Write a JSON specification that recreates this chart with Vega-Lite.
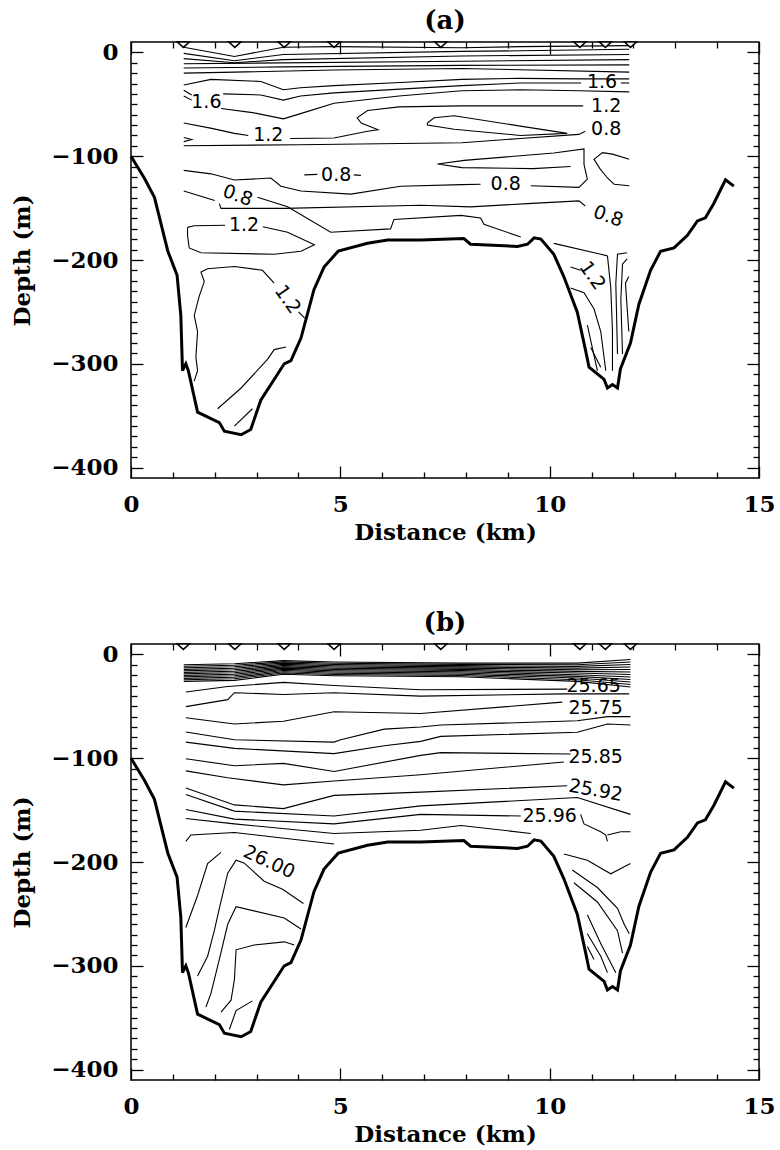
{
  "$schema": "https://vega.github.io/schema/vega-lite/v6.json",
  "background": "white",
  "padding": {"left": 10, "top": 7, "right": 5, "bottom": 5},
  "spacing": 166,
  "bounds": "flush",
  "config": {
    "view": {"stroke": "black", "strokeWidth": 1.5},
    "font": "DejaVu Serif",
    "axis": {"grid": false, "domain": false, "tickColor": "black", "tickWidth": 1.3, "labelColor": "black", "titleColor": "black", "labelFont": "DejaVu Serif", "labelFontWeight": "bold", "labelFontSize": 23, "titleFont": "DejaVu Serif", "titleFontWeight": "bold", "titleFontSize": 23, "labelFlush": false, "labelOverlap": false, "labelBound": false},
    "title": {"font": "DejaVu Serif", "fontWeight": "bold", "fontSize": 26, "color": "black", "offset": 5}
  },
  "datasets": {
    "bathy": [
      {"i":0,"x":0,"d":-100},{"i":1,"x":0.32,"d":-121.3},{"i":2,"x":0.56,"d":-139.6},{"i":3,"x":0.88,"d":-191.5},{"i":4,"x":1.10,"d":-214.6},{"i":5,"x":1.19,"d":-253.4},{"i":6,"x":1.23,"d":-306.6},{"i":7,"x":1.31,"d":-300},{"i":8,"x":1.37,"d":-306.6},{"i":9,"x":1.59,"d":-346.6},{"i":10,"x":2.11,"d":-356.6},{"i":11,"x":2.23,"d":-365},{"i":12,"x":2.63,"d":-368.3},{"i":13,"x":2.86,"d":-363.3},{"i":14,"x":3.10,"d":-335},{"i":15,"x":3.66,"d":-300},{"i":16,"x":3.82,"d":-296.9},{"i":17,"x":4.06,"d":-275.2},{"i":18,"x":4.37,"d":-228.6},{"i":19,"x":4.61,"d":-206.8},{"i":20,"x":4.95,"d":-191.5},{"i":21,"x":5.65,"d":-183.9},{"i":22,"x":6.13,"d":-180.8},{"i":23,"x":6.92,"d":-180.8},{"i":24,"x":7.95,"d":-179.3},{"i":25,"x":8.11,"d":-184.8},{"i":26,"x":9.23,"d":-186.9},{"i":27,"x":9.47,"d":-184.8},{"i":28,"x":9.63,"d":-178.7},{"i":29,"x":9.79,"d":-179.9},{"i":30,"x":10.10,"d":-194.5},{"i":31,"x":10.34,"d":-216.2},{"i":32,"x":10.66,"d":-250.2},{"i":33,"x":10.86,"d":-287.5},{"i":34,"x":10.94,"d":-303.3},{"i":35,"x":11.30,"d":-315},{"i":36,"x":11.38,"d":-323.3},{"i":37,"x":11.50,"d":-320},{"i":38,"x":11.62,"d":-323.3},{"i":39,"x":11.69,"d":-305},{"i":40,"x":11.93,"d":-280},{"i":41,"x":12.13,"d":-242.8},{"i":42,"x":12.41,"d":-209.9},{"i":43,"x":12.65,"d":-191.5},{"i":44,"x":12.97,"d":-188.4},{"i":45,"x":13.29,"d":-176.2},{"i":46,"x":13.53,"d":-162.4},{"i":47,"x":13.72,"d":-159.4},{"i":48,"x":13.92,"d":-145.6},{"i":49,"x":14.20,"d":-122.7},{"i":50,"x":14.40,"d":-128.8}
    ],
    "stations": [{"x":1.25},{"x":2.48},{"x":3.66},{"x":4.85},{"x":7.4},{"x":10.72},{"x":11.33},{"x":11.93}],
    "contA": [
      {"c":"A1","i":0,"x":1.26,"d":5},{"c":"A1","i":1,"x":2.47,"d":-4},{"c":"A1","i":2,"x":3.64,"d":5},{"c":"A1","i":3,"x":4.85,"d":5.5},{"c":"A1","i":4,"x":7.9,"d":4.5},{"c":"A1","i":5,"x":9.3,"d":5.5},{"c":"A1","i":6,"x":11.9,"d":6.5},
      {"c":"A2","i":0,"x":1.26,"d":-1},{"c":"A2","i":1,"x":2.47,"d":-8},{"c":"A2","i":2,"x":3.64,"d":-2},{"c":"A2","i":3,"x":7.9,"d":1},{"c":"A2","i":4,"x":9.3,"d":1.5},{"c":"A2","i":5,"x":11.9,"d":3},
      {"c":"A3","i":0,"x":1.26,"d":-6},{"c":"A3","i":1,"x":2.47,"d":-10},{"c":"A3","i":2,"x":3.64,"d":-7},{"c":"A3","i":3,"x":7.9,"d":-3.5},{"c":"A3","i":4,"x":11.9,"d":-2},
      {"c":"A4","i":0,"x":1.26,"d":-11},{"c":"A4","i":1,"x":7.9,"d":-8.5},{"c":"A4","i":2,"x":11.9,"d":-7},
      {"c":"A5","i":0,"x":1.26,"d":-15},{"c":"A5","i":1,"x":3.64,"d":-14},{"c":"A5","i":2,"x":7.9,"d":-12.5},{"c":"A5","i":3,"x":11.9,"d":-12},
      {"c":"A6","i":0,"x":1.26,"d":-20},{"c":"A6","i":1,"x":2.47,"d":-19},{"c":"A6","i":2,"x":4.85,"d":-17},{"c":"A6","i":3,"x":7.9,"d":-15.5},{"c":"A6","i":4,"x":11.9,"d":-19},
      {"c":"A7","i":0,"x":1.26,"d":-31.5},{"c":"A7","i":1,"x":1.91,"d":-26},{"c":"A7","i":2,"x":3.1,"d":-28},{"c":"A7","i":3,"x":3.64,"d":-36},{"c":"A7","i":4,"x":4.05,"d":-34},{"c":"A7","i":5,"x":4.85,"d":-32},{"c":"A7","i":6,"x":6.44,"d":-29},{"c":"A7","i":7,"x":7.9,"d":-26},{"c":"A7","i":8,"x":9.3,"d":-25},{"c":"A7","i":9,"x":10.7,"d":-25.5},{"c":"A7","i":10,"x":11.9,"d":-25.5},
      {"c":"A8","i":0,"x":2.2,"d":-40},{"c":"A8","i":1,"x":3.1,"d":-41},{"c":"A8","i":2,"x":3.64,"d":-46},{"c":"A8","i":3,"x":4.05,"d":-42},{"c":"A8","i":4,"x":4.85,"d":-39},{"c":"A8","i":5,"x":7.9,"d":-32},{"c":"A8","i":6,"x":9.3,"d":-29.5},{"c":"A8","i":7,"x":10.75,"d":-29.5},
      {"c":"A8b","i":0,"x":11.7,"d":-29.5},{"c":"A8b","i":1,"x":11.9,"d":-29.5},
      {"c":"A9","i":0,"x":1.26,"d":-36.5},{"c":"A9","i":1,"x":1.45,"d":-41},
      {"c":"A10","i":0,"x":1.26,"d":-42},{"c":"A10","i":1,"x":1.45,"d":-46},
      {"c":"A11","i":0,"x":2.15,"d":-54},{"c":"A11","i":1,"x":2.9,"d":-58},{"c":"A11","i":2,"x":3.64,"d":-64},{"c":"A11","i":3,"x":4.05,"d":-59},{"c":"A11","i":4,"x":4.85,"d":-49},{"c":"A11","i":5,"x":6.4,"d":-42},{"c":"A11","i":6,"x":7.9,"d":-37},{"c":"A11","i":7,"x":9.3,"d":-36},{"c":"A11","i":8,"x":10.7,"d":-37},{"c":"A11","i":9,"x":11.9,"d":-38},
      {"c":"A12","i":0,"x":1.26,"d":-68},{"c":"A12","i":1,"x":1.9,"d":-73},{"c":"A12","i":2,"x":2.47,"d":-78},{"c":"A12","i":3,"x":2.8,"d":-80},
      {"c":"A12b","i":0,"x":3.8,"d":-83},{"c":"A12b","i":1,"x":4.85,"d":-82.5},{"c":"A12b","i":2,"x":5.65,"d":-76},{"c":"A12b","i":3,"x":5.9,"d":-74.5},{"c":"A12b","i":4,"x":5.5,"d":-68},{"c":"A12b","i":5,"x":5.4,"d":-63},{"c":"A12b","i":6,"x":5.65,"d":-56},{"c":"A12b","i":7,"x":6.4,"d":-52.5},{"c":"A12b","i":8,"x":7.9,"d":-51.5},{"c":"A12b","i":9,"x":9.3,"d":-51.5},{"c":"A12b","i":10,"x":10.8,"d":-51.5},
      {"c":"A13","i":0,"x":1.26,"d":-82},{"c":"A13","i":1,"x":1.45,"d":-84},{"c":"A13","i":2,"x":1.26,"d":-86},
      {"c":"A14","i":0,"x":1.26,"d":-90},{"c":"A14","i":1,"x":4,"d":-89},{"c":"A14","i":2,"x":7.9,"d":-87},{"c":"A14","i":3,"x":9.3,"d":-83},{"c":"A14","i":4,"x":10.7,"d":-79},{"c":"A14","i":5,"x":10.85,"d":-76},
      {"c":"A15","i":0,"x":7.08,"d":-68},{"c":"A15","i":1,"x":7.24,"d":-63},{"c":"A15","i":2,"x":7.72,"d":-61},{"c":"A15","i":3,"x":9.3,"d":-71},{"c":"A15","i":4,"x":10.42,"d":-78},{"c":"A15","i":5,"x":9.3,"d":-80},{"c":"A15","i":6,"x":7.72,"d":-74},{"c":"A15","i":7,"x":7.08,"d":-70},{"c":"A15","i":8,"x":7.08,"d":-68},
      {"c":"A16","i":0,"x":4.14,"d":-118},{"c":"A16","i":1,"x":4.45,"d":-117.5},
      {"c":"A16b","i":0,"x":5.32,"d":-118},{"c":"A16b","i":1,"x":5.49,"d":-118.5},
      {"c":"A17","i":0,"x":1.26,"d":-113.7},{"c":"A17","i":1,"x":1.91,"d":-117},{"c":"A17","i":2,"x":2.47,"d":-123},{"c":"A17","i":3,"x":3.34,"d":-121},{"c":"A17","i":4,"x":3.58,"d":-129},{"c":"A17","i":5,"x":4.06,"d":-133.5},{"c":"A17","i":6,"x":5.25,"d":-136.5},{"c":"A17","i":7,"x":6.44,"d":-129},{"c":"A17","i":8,"x":7.9,"d":-127.4},{"c":"A17","i":9,"x":8.35,"d":-127},
      {"c":"A17b","i":0,"x":9.55,"d":-128.5},{"c":"A17b","i":1,"x":10.7,"d":-130},{"c":"A17b","i":2,"x":10.9,"d":-122},{"c":"A17b","i":3,"x":10.82,"d":-108},{"c":"A17b","i":4,"x":10.82,"d":-93},{"c":"A17b","i":5,"x":10.1,"d":-97},{"c":"A17b","i":6,"x":7.96,"d":-104},{"c":"A17b","i":7,"x":7.32,"d":-107.6},{"c":"A17b","i":8,"x":7.9,"d":-111},{"c":"A17b","i":9,"x":9.6,"d":-112},{"c":"A17b","i":10,"x":10.5,"d":-110},
      {"c":"A19","i":0,"x":11.9,"d":-103},{"c":"A19","i":1,"x":11.5,"d":-98},{"c":"A19","i":2,"x":11.26,"d":-96.6},{"c":"A19","i":3,"x":11.06,"d":-103},{"c":"A19","i":4,"x":11.2,"d":-112},{"c":"A19","i":5,"x":11.38,"d":-121},{"c":"A19","i":6,"x":11.54,"d":-127},{"c":"A19","i":7,"x":11.9,"d":-128.5},
      {"c":"A20","i":0,"x":1.26,"d":-133.5},{"c":"A20","i":1,"x":2.0,"d":-142.7},
      {"c":"A20b","i":0,"x":3.02,"d":-139.6},{"c":"A20b","i":1,"x":3.74,"d":-148.8},{"c":"A20b","i":2,"x":4.77,"d":-173.2},{"c":"A20b","i":3,"x":6.2,"d":-170},{"c":"A20b","i":4,"x":6.28,"d":-161},{"c":"A20b","i":5,"x":7.88,"d":-157},{"c":"A20b","i":6,"x":8.35,"d":-159.5},{"c":"A20b","i":7,"x":8.43,"d":-165.6},{"c":"A20b","i":8,"x":9.31,"d":-177.8},
      {"c":"A21","i":0,"x":2.11,"d":-145.7},{"c":"A21","i":1,"x":2.15,"d":-150.3},{"c":"A21","i":2,"x":3.66,"d":-150.3},{"c":"A21","i":3,"x":6.92,"d":-147.2},{"c":"A21","i":4,"x":8.11,"d":-148.8},{"c":"A21","i":5,"x":9.47,"d":-145.7},{"c":"A21","i":6,"x":10.7,"d":-143},{"c":"A21","i":7,"x":10.85,"d":-148},
      {"c":"A22","i":0,"x":1.35,"d":-168.6},{"c":"A22","i":1,"x":1.51,"d":-167},{"c":"A22","i":2,"x":2.25,"d":-166.5},
      {"c":"A22b","i":0,"x":3.15,"d":-168},{"c":"A22b","i":1,"x":3.74,"d":-173.2},{"c":"A22b","i":2,"x":4.38,"d":-185.4},{"c":"A22b","i":3,"x":4.06,"d":-191.5},{"c":"A22b","i":4,"x":3.42,"d":-194.5},{"c":"A22b","i":5,"x":1.67,"d":-193},{"c":"A22b","i":6,"x":1.39,"d":-188.4},{"c":"A22b","i":7,"x":1.35,"d":-176.2},{"c":"A22b","i":8,"x":1.35,"d":-168.6},
      {"c":"A23","i":0,"x":3.42,"d":-222.3},{"c":"A23","i":1,"x":3.14,"d":-209.9},{"c":"A23","i":2,"x":2.47,"d":-206.2},{"c":"A23","i":3,"x":1.83,"d":-208.4},{"c":"A23","i":4,"x":1.67,"d":-211.5},{"c":"A23","i":5,"x":1.75,"d":-220.8},{"c":"A23","i":6,"x":1.63,"d":-234.8},{"c":"A23","i":7,"x":1.51,"d":-253.4},{"c":"A23","i":8,"x":1.59,"d":-268.9},{"c":"A23","i":9,"x":1.55,"d":-293.7},{"c":"A23","i":10,"x":1.59,"d":-306.7},{"c":"A23","i":11,"x":1.51,"d":-316.7},
      {"c":"A23b","i":0,"x":4.0,"d":-250},{"c":"A23b","i":1,"x":4.15,"d":-256},
      {"c":"A24","i":0,"x":3.70,"d":-283.8},{"c":"A24","i":1,"x":3.42,"d":-286.3},{"c":"A24","i":2,"x":3.26,"d":-295.7},{"c":"A24","i":3,"x":2.63,"d":-323.3},{"c":"A24","i":4,"x":2.07,"d":-343.3},
      {"c":"A25","i":0,"x":2.9,"d":-343.3},{"c":"A25","i":1,"x":2.47,"d":-360},
      {"c":"A26","i":0,"x":10.1,"d":-184},{"c":"A26","i":1,"x":11.22,"d":-194.5},{"c":"A26","i":2,"x":11.38,"d":-196},
      {"c":"A27","i":0,"x":10.5,"d":-206.8},{"c":"A27","i":1,"x":10.74,"d":-209.9},
      {"c":"A28","i":0,"x":10.5,"d":-227},{"c":"A28","i":1,"x":10.82,"d":-231.6},{"c":"A28","i":2,"x":11.06,"d":-247.2},{"c":"A28","i":3,"x":11.22,"d":-268.9},{"c":"A28","i":4,"x":11.34,"d":-306.7},
      {"c":"A29","i":0,"x":11.38,"d":-196},{"c":"A29","i":1,"x":11.46,"d":-227},{"c":"A29","i":2,"x":11.5,"d":-268.9},{"c":"A29","i":3,"x":11.5,"d":-306.7},
      {"c":"A30","i":0,"x":11.85,"d":-193},{"c":"A30","i":1,"x":11.62,"d":-194.5},{"c":"A30","i":2,"x":11.58,"d":-222.3},{"c":"A30","i":3,"x":11.62,"d":-290.6},
      {"c":"A31","i":0,"x":11.85,"d":-199},{"c":"A31","i":1,"x":11.74,"d":-204},{"c":"A31","i":2,"x":11.7,"d":-237.9},{"c":"A31","i":3,"x":11.74,"d":-290.6},
      {"c":"A32","i":0,"x":11.89,"d":-216},{"c":"A32","i":1,"x":11.81,"d":-222.3},{"c":"A32","i":2,"x":11.89,"d":-268.9},
      {"c":"A33","i":0,"x":10.9,"d":-262.7},{"c":"A33","i":1,"x":11.14,"d":-306.7},
      {"c":"A34","i":0,"x":10.98,"d":-284.4},{"c":"A34","i":1,"x":11.22,"d":-303.3}
    ],
    "contB": [
      {"c":"K0","i":0,"x":1.26,"d":-10},{"c":"K0","i":1,"x":2.47,"d":-9},{"c":"K0","i":2,"x":3.64,"d":-6},{"c":"K0","i":3,"x":4.85,"d":-7.4},{"c":"K0","i":4,"x":7.88,"d":-8.4},{"c":"K0","i":5,"x":10.66,"d":-8.4},{"c":"K0","i":6,"x":11.93,"d":-5},
      {"c":"K1","i":0,"x":1.26,"d":-11.5},{"c":"K1","i":1,"x":2.47,"d":-10.5},{"c":"K1","i":2,"x":3.64,"d":-7.2},{"c":"K1","i":3,"x":4.85,"d":-8.6},{"c":"K1","i":4,"x":7.88,"d":-9.6},{"c":"K1","i":5,"x":10.66,"d":-10},{"c":"K1","i":6,"x":11.93,"d":-7.4},
      {"c":"K2","i":0,"x":1.26,"d":-12.9},{"c":"K2","i":1,"x":2.47,"d":-11.9},{"c":"K2","i":2,"x":3.64,"d":-8.4},{"c":"K2","i":3,"x":4.85,"d":-9.8},{"c":"K2","i":4,"x":7.88,"d":-10.8},{"c":"K2","i":5,"x":10.66,"d":-11.6},{"c":"K2","i":6,"x":11.93,"d":-9.8},
      {"c":"K3","i":0,"x":1.26,"d":-14.4},{"c":"K3","i":1,"x":2.47,"d":-13.4},{"c":"K3","i":2,"x":3.64,"d":-9.6},{"c":"K3","i":3,"x":4.85,"d":-11},{"c":"K3","i":4,"x":7.88,"d":-12},{"c":"K3","i":5,"x":10.66,"d":-13.2},{"c":"K3","i":6,"x":11.93,"d":-12.2},
      {"c":"K4","i":0,"x":1.26,"d":-15.8},{"c":"K4","i":1,"x":2.47,"d":-14.8},{"c":"K4","i":2,"x":3.64,"d":-10.8},{"c":"K4","i":3,"x":4.85,"d":-12.2},{"c":"K4","i":4,"x":7.88,"d":-13.2},{"c":"K4","i":5,"x":10.66,"d":-14.8},{"c":"K4","i":6,"x":11.93,"d":-14.6},
      {"c":"K5","i":0,"x":1.26,"d":-17.3},{"c":"K5","i":1,"x":2.47,"d":-16.3},{"c":"K5","i":2,"x":3.64,"d":-12},{"c":"K5","i":3,"x":4.85,"d":-13.4},{"c":"K5","i":4,"x":7.88,"d":-14.4},{"c":"K5","i":5,"x":10.66,"d":-16.4},{"c":"K5","i":6,"x":11.93,"d":-17},
      {"c":"K6","i":0,"x":1.26,"d":-18.7},{"c":"K6","i":1,"x":2.47,"d":-17.7},{"c":"K6","i":2,"x":3.64,"d":-13.2},{"c":"K6","i":3,"x":4.85,"d":-14.6},{"c":"K6","i":4,"x":7.88,"d":-15.6},{"c":"K6","i":5,"x":10.66,"d":-18},{"c":"K6","i":6,"x":11.93,"d":-19.4},
      {"c":"K7","i":0,"x":1.26,"d":-20.2},{"c":"K7","i":1,"x":2.47,"d":-19.2},{"c":"K7","i":2,"x":3.64,"d":-14.4},{"c":"K7","i":3,"x":4.85,"d":-15.8},{"c":"K7","i":4,"x":7.88,"d":-16.8},{"c":"K7","i":5,"x":10.66,"d":-19.6},{"c":"K7","i":6,"x":11.93,"d":-21.8},
      {"c":"K8","i":0,"x":1.26,"d":-21.6},{"c":"K8","i":1,"x":2.47,"d":-20.6},{"c":"K8","i":2,"x":3.64,"d":-15.6},{"c":"K8","i":3,"x":4.85,"d":-17},{"c":"K8","i":4,"x":7.88,"d":-18},{"c":"K8","i":5,"x":10.66,"d":-21.2},{"c":"K8","i":6,"x":11.93,"d":-24.2},
      {"c":"K9","i":0,"x":1.26,"d":-23.1},{"c":"K9","i":1,"x":2.47,"d":-22.1},{"c":"K9","i":2,"x":3.64,"d":-16.8},{"c":"K9","i":3,"x":4.85,"d":-18.2},{"c":"K9","i":4,"x":7.88,"d":-19.2},{"c":"K9","i":5,"x":10.66,"d":-22.8},{"c":"K9","i":6,"x":11.93,"d":-26.6},
      {"c":"K10","i":0,"x":1.26,"d":-24.5},{"c":"K10","i":1,"x":2.47,"d":-23.5},{"c":"K10","i":2,"x":3.64,"d":-18},{"c":"K10","i":3,"x":4.85,"d":-19.4},{"c":"K10","i":4,"x":7.88,"d":-20.4},{"c":"K10","i":5,"x":10.66,"d":-24.4},{"c":"K10","i":6,"x":11.93,"d":-29},
      {"c":"K11","i":0,"x":1.26,"d":-26},{"c":"K11","i":1,"x":2.47,"d":-25},{"c":"K11","i":2,"x":3.64,"d":-19.2},{"c":"K11","i":3,"x":4.85,"d":-20.6},{"c":"K11","i":4,"x":7.88,"d":-21.6},{"c":"K11","i":5,"x":10.66,"d":-26},{"c":"K11","i":6,"x":11.93,"d":-31.4},
      {"c":"P1","i":0,"x":1.31,"d":-36.2},{"c":"P1","i":1,"x":2.31,"d":-31},{"c":"P1","i":2,"x":3.64,"d":-27},{"c":"P1","i":3,"x":4.85,"d":-30},{"c":"P1","i":4,"x":6.92,"d":-34},{"c":"P1","i":5,"x":10.42,"d":-33.5},
      {"c":"P2","i":0,"x":1.31,"d":-50.3},{"c":"P2","i":1,"x":2.31,"d":-43.6},{"c":"P2","i":2,"x":2.47,"d":-36.9},{"c":"P2","i":3,"x":3.64,"d":-38.6},{"c":"P2","i":4,"x":4.85,"d":-37},{"c":"P2","i":5,"x":6.92,"d":-40.2},{"c":"P2","i":6,"x":10.34,"d":-38},{"c":"P2","i":7,"x":11.9,"d":-38},
      {"c":"P3","i":0,"x":1.31,"d":-61},{"c":"P3","i":1,"x":2.47,"d":-67},{"c":"P3","i":2,"x":3.64,"d":-64.4},{"c":"P3","i":3,"x":4.85,"d":-55.3},{"c":"P3","i":4,"x":6.92,"d":-57},{"c":"P3","i":5,"x":10.3,"d":-46},
      {"c":"P4","i":0,"x":1.31,"d":-74.8},{"c":"P4","i":1,"x":2.47,"d":-82.2},{"c":"P4","i":2,"x":4.85,"d":-84.5},{"c":"P4","i":3,"x":5.01,"d":-82.2},{"c":"P4","i":4,"x":6.05,"d":-72},{"c":"P4","i":5,"x":6.92,"d":-70},{"c":"P4","i":6,"x":7.4,"d":-68},{"c":"P4","i":7,"x":10.66,"d":-64},{"c":"P4","i":8,"x":11.38,"d":-60},{"c":"P4","i":9,"x":11.93,"d":-60},
      {"c":"P5","i":0,"x":1.31,"d":-84.5},{"c":"P5","i":1,"x":2.47,"d":-90.5},{"c":"P5","i":2,"x":4.85,"d":-95.6},{"c":"P5","i":3,"x":6.05,"d":-88},{"c":"P5","i":4,"x":6.92,"d":-83.8},{"c":"P5","i":5,"x":7.4,"d":-79},{"c":"P5","i":6,"x":10.66,"d":-75},{"c":"P5","i":7,"x":11.38,"d":-67},{"c":"P5","i":8,"x":11.93,"d":-68},
      {"c":"P6","i":0,"x":1.31,"d":-100.6},{"c":"P6","i":1,"x":2.47,"d":-107.3},{"c":"P6","i":2,"x":3.64,"d":-105},{"c":"P6","i":3,"x":4.85,"d":-112.8},{"c":"P6","i":4,"x":6.92,"d":-97.3},{"c":"P6","i":5,"x":7.4,"d":-94.6},{"c":"P6","i":6,"x":10.5,"d":-96},
      {"c":"P7","i":0,"x":1.31,"d":-112.2},{"c":"P7","i":1,"x":2.31,"d":-118.9},{"c":"P7","i":2,"x":3.64,"d":-125.7},{"c":"P7","i":3,"x":4.85,"d":-122},{"c":"P7","i":4,"x":6.92,"d":-115.9},{"c":"P7","i":5,"x":10.34,"d":-103.7},
      {"c":"P8","i":0,"x":1.31,"d":-128.7},{"c":"P8","i":1,"x":2.47,"d":-145},{"c":"P8","i":2,"x":3.64,"d":-148.6},{"c":"P8","i":3,"x":4.85,"d":-135.8},{"c":"P8","i":4,"x":6.92,"d":-132.7},{"c":"P8","i":5,"x":10.42,"d":-126.6},
      {"c":"P9","i":0,"x":1.31,"d":-134.9},{"c":"P9","i":1,"x":2.47,"d":-151},{"c":"P9","i":2,"x":4.85,"d":-155.7},{"c":"P9","i":3,"x":6.92,"d":-145.9},{"c":"P9","i":4,"x":10.66,"d":-137.9},{"c":"P9","i":5,"x":11.93,"d":-154.1},
      {"c":"P10","i":0,"x":1.31,"d":-149.5},{"c":"P10","i":1,"x":2.47,"d":-158.7},{"c":"P10","i":2,"x":4.85,"d":-163.3},{"c":"P10","i":3,"x":6.92,"d":-154.1},{"c":"P10","i":4,"x":9.31,"d":-155.7},
      {"c":"P10b","i":0,"x":10.74,"d":-154.1},{"c":"P10b","i":1,"x":10.82,"d":-163.3},{"c":"P10b","i":2,"x":11.22,"d":-170.9},{"c":"P10b","i":3,"x":11.34,"d":-174},{"c":"P10b","i":4,"x":11.38,"d":-180.1},
      {"c":"P10c","i":0,"x":11.38,"d":-174},{"c":"P10c","i":1,"x":11.7,"d":-170.9},{"c":"P10c","i":2,"x":11.93,"d":-170.9},
      {"c":"P11","i":0,"x":1.31,"d":-158.1},{"c":"P11","i":1,"x":2.47,"d":-163.3},{"c":"P11","i":2,"x":4.85,"d":-172.5},{"c":"P11","i":3,"x":6.92,"d":-169.4},{"c":"P11","i":4,"x":7.88,"d":-164.8},{"c":"P11","i":5,"x":9.55,"d":-172.5},
      {"c":"P12","i":0,"x":1.31,"d":-180.1},{"c":"P12","i":1,"x":1.43,"d":-174},{"c":"P12","i":2,"x":2.47,"d":-171.6},{"c":"P12","i":3,"x":4.85,"d":-182.6},
      {"c":"Q1","i":0,"x":2.15,"d":-190.8},{"c":"Q1","i":1,"x":1.83,"d":-201.5},{"c":"Q1","i":2,"x":1.59,"d":-232.3},{"c":"Q1","i":3,"x":1.31,"d":-263.1},
      {"c":"Q2","i":0,"x":4.12,"d":-240},{"c":"Q2","i":1,"x":3.62,"d":-226.2},{"c":"Q2","i":2,"x":3.18,"d":-218.5},{"c":"Q2","i":3,"x":2.70,"d":-200.9},{"c":"Q2","i":4,"x":2.51,"d":-198.2},{"c":"Q2","i":5,"x":2.31,"d":-210.8},{"c":"Q2","i":6,"x":2.11,"d":-244.6},{"c":"Q2","i":7,"x":1.99,"d":-266.2},{"c":"Q2","i":8,"x":1.83,"d":-290.8},{"c":"Q2","i":9,"x":1.59,"d":-309.9},
      {"c":"Q3","i":0,"x":4.06,"d":-264.6},{"c":"Q3","i":1,"x":3.66,"d":-253.9},{"c":"Q3","i":2,"x":2.51,"d":-243.1},{"c":"Q3","i":3,"x":2.31,"d":-260},{"c":"Q3","i":4,"x":2.11,"d":-293.9},{"c":"Q3","i":5,"x":1.91,"d":-326.5},{"c":"Q3","i":6,"x":1.79,"d":-339.7},
      {"c":"Q4","i":0,"x":3.9,"d":-280},{"c":"Q4","i":1,"x":3.66,"d":-276.9},{"c":"Q4","i":2,"x":2.94,"d":-280},{"c":"Q4","i":3,"x":2.51,"d":-284.6},{"c":"Q4","i":4,"x":2.47,"d":-313.2},{"c":"Q4","i":5,"x":2.39,"d":-333.1},{"c":"Q4","i":6,"x":2.15,"d":-344.7},
      {"c":"Q5","i":0,"x":2.9,"d":-333.8},{"c":"Q5","i":1,"x":2.51,"d":-343.1},{"c":"Q5","i":2,"x":2.35,"d":-361.3},
      {"c":"R1","i":0,"x":10.34,"d":-192.3},{"c":"R1","i":1,"x":10.9,"d":-198.4},{"c":"R1","i":2,"x":11.3,"d":-207.7},{"c":"R1","i":3,"x":11.46,"d":-211.4},{"c":"R1","i":4,"x":11.7,"d":-206.2},{"c":"R1","i":5,"x":11.93,"d":-201.5},
      {"c":"R2","i":0,"x":10.54,"d":-207.7},{"c":"R2","i":1,"x":11.14,"d":-224.6},{"c":"R2","i":2,"x":11.62,"d":-244.6},{"c":"R2","i":3,"x":11.78,"d":-260},{"c":"R2","i":4,"x":11.9,"d":-269.2},
      {"c":"R3","i":0,"x":10.58,"d":-220},{"c":"R3","i":1,"x":11.14,"d":-238.5},{"c":"R3","i":2,"x":11.62,"d":-266.2},{"c":"R3","i":3,"x":11.74,"d":-287.7},
      {"c":"R4","i":0,"x":10.9,"d":-250.8},{"c":"R4","i":1,"x":11.22,"d":-278.5},{"c":"R4","i":2,"x":11.58,"d":-306.6},
      {"c":"R5","i":0,"x":10.9,"d":-269.2},{"c":"R5","i":1,"x":11.22,"d":-290.8},{"c":"R5","i":2,"x":11.38,"d":-306.6},
      {"c":"R6","i":0,"x":10.9,"d":-281.5},{"c":"R6","i":1,"x":11.06,"d":-293.9}
    ]
  },
  "vconcat": [
    {
      "width": 628, "height": 436,
      "title": {"text": "(a)"},
      "layer": [
        {
          "data": {"name": "contA"},
          "mark": {"type": "line", "color": "black", "strokeWidth": 1.1},
          "encoding": {
            "x": {"field": "x", "type": "quantitative", "scale": {"domain": [0, 15], "nice": false, "zero": false},
                  "axis": {"orient": "bottom", "values": [0, 5, 10, 15], "tickSize": -12, "labelPadding": 27, "title": "Distance (km)", "titlePadding": 5}},
            "y": {"field": "d", "type": "quantitative", "scale": {"domain": [-410, 10], "nice": false, "zero": false},
                  "axis": {"orient": "left", "values": [0, -100, -200, -300, -400], "tickSize": -12, "labelPadding": 25, "title": "Depth (m)", "titlePadding": 16}},
            "detail": {"field": "c"},
            "order": {"field": "i"}
          }
        },
        {
          "data": {"name": "bathy"},
          "mark": {"type": "line", "color": "black", "strokeWidth": 3, "strokeJoin": "miter"},
          "encoding": {
            "x": {"field": "x", "type": "quantitative", "scale": {"domain": [0, 15], "nice": false, "zero": false},
                  "axis": {"orient": "bottom", "values": [1, 2, 3, 4, 6, 7, 8, 9, 11, 12, 13, 14], "tickSize": -6, "labels": false, "title": null}},
            "y": {"field": "d", "type": "quantitative", "scale": {"domain": [-410, 10], "nice": false, "zero": false},
                  "axis": {"orient": "left", "values": [-10, -20, -30, -40, -50, -60, -70, -80, -90, -110, -120, -130, -140, -150, -160, -170, -180, -190, -210, -220, -230, -240, -250, -260, -270, -280, -290, -310, -320, -330, -340, -350, -360, -370, -380, -390], "tickSize": -6, "labels": false, "title": null}},
            "order": {"field": "i"}
          }
        },
        {
          "data": {"values": [
            {"x": 11.25, "d": -28.5, "t": "1.6"}, {"x": 11.35, "d": -52, "t": "1.2"}, {"x": 11.35, "d": -74, "t": "0.8"},
            {"x": 1.8, "d": -48, "t": "1.6"}, {"x": 3.28, "d": -80, "t": "1.2"}, {"x": 4.9, "d": -118, "t": "0.8"},
            {"x": 8.95, "d": -127, "t": "0.8"}, {"x": 2.7, "d": -166.5, "t": "1.2"}
          ]},
          "mark": {"type": "text", "font": "DejaVu Sans", "fontSize": 19, "color": "black", "align": "center", "baseline": "middle"},
          "encoding": {
            "x": {"field": "x", "type": "quantitative", "scale": {"domain": [0, 15], "nice": false, "zero": false},
                  "axis": {"orient": "top", "values": [0, 5, 10, 15], "tickSize": -12, "labels": false, "title": null}},
            "y": {"field": "d", "type": "quantitative", "scale": {"domain": [-410, 10], "nice": false, "zero": false},
                  "axis": {"orient": "right", "values": [0, -100, -200, -300, -400], "tickSize": -12, "labels": false, "title": null}},
            "text": {"field": "t"}
          }
        },
        {
          "data": {"name": "stations"},
          "mark": {"type": "point", "shape": "M-1,-0.45L1,-0.45L0,0.45Z", "size": 144, "filled": true, "fill": "white", "stroke": "black", "strokeWidth": 1.5, "opacity": 1},
          "encoding": {
            "x": {"field": "x", "type": "quantitative", "scale": {"domain": [0, 15], "nice": false, "zero": false},
                  "axis": {"orient": "top", "values": [1, 2, 3, 4, 6, 7, 8, 9, 11, 12, 13, 14], "tickSize": -6, "labels": false, "title": null}},
            "y": {"datum": 7.4, "type": "quantitative", "scale": {"domain": [-410, 10], "nice": false, "zero": false},
                  "axis": {"orient": "right", "values": [-10, -20, -30, -40, -50, -60, -70, -80, -90, -110, -120, -130, -140, -150, -160, -170, -180, -190, -210, -220, -230, -240, -250, -260, -270, -280, -290, -310, -320, -330, -340, -350, -360, -370, -380, -390], "tickSize": -6, "labels": false, "title": null}}
          }
        },
        {
          "data": {"values": [{"x": 2.55, "d": -138, "t": "0.8"}, {"x": 11.4, "d": -158, "t": "0.8"}]},
          "mark": {"type": "text", "font": "DejaVu Sans", "fontSize": 19, "color": "black", "align": "center", "baseline": "middle", "angle": 20},
          "encoding": {
            "x": {"field": "x", "type": "quantitative", "axis": null},
            "y": {"field": "d", "type": "quantitative", "axis": null},
            "text": {"field": "t"}
          }
        },
        {
          "data": {"values": [{"x": 3.74, "d": -238, "t": "1.2"}, {"x": 11.02, "d": -215, "t": "1.2"}]},
          "mark": {"type": "text", "font": "DejaVu Sans", "fontSize": 19, "color": "black", "align": "center", "baseline": "middle", "angle": 55},
          "encoding": {
            "x": {"field": "x", "type": "quantitative", "axis": null},
            "y": {"field": "d", "type": "quantitative", "axis": null},
            "text": {"field": "t"}
          }
        }
      ],
      "resolve": {"axis": {"x": "independent", "y": "independent"}}
    },
    {
      "width": 628, "height": 436,
      "title": {"text": "(b)"},
      "layer": [
        {
          "data": {"name": "contB"},
          "mark": {"type": "line", "color": "black", "strokeWidth": 1.1},
          "encoding": {
            "x": {"field": "x", "type": "quantitative", "scale": {"domain": [0, 15], "nice": false, "zero": false},
                  "axis": {"orient": "bottom", "values": [0, 5, 10, 15], "tickSize": -12, "labelPadding": 27, "title": "Distance (km)", "titlePadding": 5}},
            "y": {"field": "d", "type": "quantitative", "scale": {"domain": [-410, 10], "nice": false, "zero": false},
                  "axis": {"orient": "left", "values": [0, -100, -200, -300, -400], "tickSize": -12, "labelPadding": 25, "title": "Depth (m)", "titlePadding": 16}},
            "detail": {"field": "c"},
            "order": {"field": "i"}
          }
        },
        {
          "data": {"name": "bathy"},
          "mark": {"type": "line", "color": "black", "strokeWidth": 3, "strokeJoin": "miter"},
          "encoding": {
            "x": {"field": "x", "type": "quantitative", "scale": {"domain": [0, 15], "nice": false, "zero": false},
                  "axis": {"orient": "bottom", "values": [1, 2, 3, 4, 6, 7, 8, 9, 11, 12, 13, 14], "tickSize": -6, "labels": false, "title": null}},
            "y": {"field": "d", "type": "quantitative", "scale": {"domain": [-410, 10], "nice": false, "zero": false},
                  "axis": {"orient": "left", "values": [-10, -20, -30, -40, -50, -60, -70, -80, -90, -110, -120, -130, -140, -150, -160, -170, -180, -190, -210, -220, -230, -240, -250, -260, -270, -280, -290, -310, -320, -330, -340, -350, -360, -370, -380, -390], "tickSize": -6, "labels": false, "title": null}},
            "order": {"field": "i"}
          }
        },
        {
          "data": {"values": [
            {"x": 11.05, "d": -30.5, "t": "25.65"}, {"x": 11.1, "d": -51.5, "t": "25.75"}, {"x": 11.1, "d": -99, "t": "25.85"},
            {"x": 10.0, "d": -155.7, "t": "25.96"}
          ]},
          "mark": {"type": "text", "font": "DejaVu Sans", "fontSize": 19, "color": "black", "align": "center", "baseline": "middle"},
          "encoding": {
            "x": {"field": "x", "type": "quantitative", "scale": {"domain": [0, 15], "nice": false, "zero": false},
                  "axis": {"orient": "top", "values": [0, 5, 10, 15], "tickSize": -12, "labels": false, "title": null}},
            "y": {"field": "d", "type": "quantitative", "scale": {"domain": [-410, 10], "nice": false, "zero": false},
                  "axis": {"orient": "right", "values": [0, -100, -200, -300, -400], "tickSize": -12, "labels": false, "title": null}},
            "text": {"field": "t"}
          }
        },
        {
          "data": {"name": "stations"},
          "mark": {"type": "point", "shape": "M-1,-0.45L1,-0.45L0,0.45Z", "size": 144, "filled": true, "fill": "white", "stroke": "black", "strokeWidth": 1.5, "opacity": 1},
          "encoding": {
            "x": {"field": "x", "type": "quantitative", "scale": {"domain": [0, 15], "nice": false, "zero": false},
                  "axis": {"orient": "top", "values": [1, 2, 3, 4, 6, 7, 8, 9, 11, 12, 13, 14], "tickSize": -6, "labels": false, "title": null}},
            "y": {"datum": 7.4, "type": "quantitative", "scale": {"domain": [-410, 10], "nice": false, "zero": false},
                  "axis": {"orient": "right", "values": [-10, -20, -30, -40, -50, -60, -70, -80, -90, -110, -120, -130, -140, -150, -160, -170, -180, -190, -210, -220, -230, -240, -250, -260, -270, -280, -290, -310, -320, -330, -340, -350, -360, -370, -380, -390], "tickSize": -6, "labels": false, "title": null}}
          }
        },
        {
          "data": {"values": [{"x": 11.1, "d": -131, "t": "25.92"}]},
          "mark": {"type": "text", "font": "DejaVu Sans", "fontSize": 19, "color": "black", "align": "center", "baseline": "middle", "angle": 10},
          "encoding": {
            "x": {"field": "x", "type": "quantitative", "axis": null},
            "y": {"field": "d", "type": "quantitative", "axis": null},
            "text": {"field": "t"}
          }
        },
        {
          "data": {"values": [{"x": 3.3, "d": -200, "t": "26.00"}]},
          "mark": {"type": "text", "font": "DejaVu Sans", "fontSize": 19, "color": "black", "align": "center", "baseline": "middle", "angle": 25},
          "encoding": {
            "x": {"field": "x", "type": "quantitative", "axis": null},
            "y": {"field": "d", "type": "quantitative", "axis": null},
            "text": {"field": "t"}
          }
        }
      ],
      "resolve": {"axis": {"x": "independent", "y": "independent"}}
    }
  ]
}
